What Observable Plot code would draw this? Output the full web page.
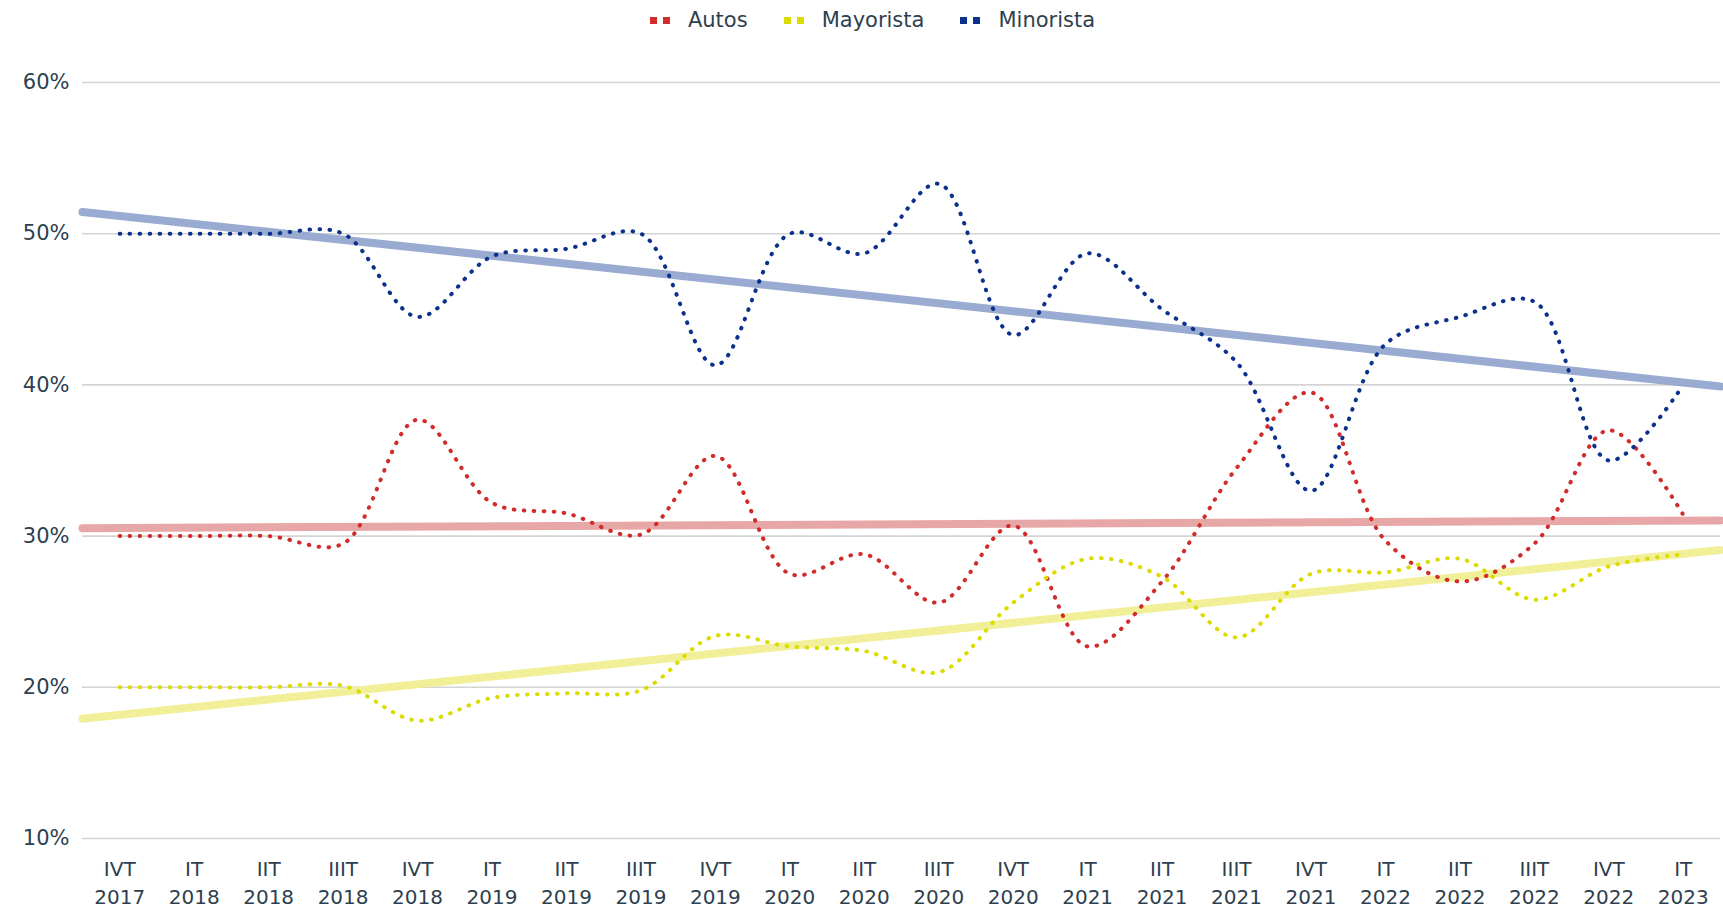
<!DOCTYPE html>
<html>
<head>
<meta charset="utf-8">
<script src="https://cdn.jsdelivr.net/npm/d3@7"></script>
<script src="https://cdn.jsdelivr.net/npm/@observablehq/plot@0.6"></script>
<style>
  html, body { margin: 0; padding: 0; background: #fff; }
  #legend {
    height: 40px; display: flex; justify-content: center; align-items: center;
    font-family: "DejaVu Sans", sans-serif; font-size: 21px; color: #2e3f50;
    gap: 36px; padding-left: 22px; box-sizing: border-box;
  }
  .item { display: flex; align-items: center; gap: 18px; }
  .sw { display: flex; gap: 6px; }
  .sw span { width: 7px; height: 7px; display: block; }
</style>
</head>
<body>
<div id="legend"></div>
<div id="chart"></div>
<script>
const periods = ["IVT\n2017","IT\n2018","IIT\n2018","IIIT\n2018","IVT\n2018","IT\n2019","IIT\n2019","IIIT\n2019","IVT\n2019","IT\n2020","IIT\n2020","IIIT\n2020","IVT\n2020","IT\n2021","IIT\n2021","IIIT\n2021","IVT\n2021","IT\n2022","IIT\n2022","IIIT\n2022","IVT\n2022","IT\n2023"];
const autos     = [30, 30, 30, 29.5, 37.7, 32.2, 31.5, 30.1, 35.3, 27.5, 28.8, 25.6, 30.7, 22.7, 27.0, 34.5, 39.5, 29.7, 27.0, 29.5, 37.0, 31.4];
const mayorista = [20, 20, 20, 20.1, 17.8, 19.3, 19.6, 19.8, 23.4, 22.7, 22.4, 21.0, 25.6, 28.5, 27.3, 23.3, 27.5, 27.6, 28.5, 25.8, 28.0, 28.8];
const minorista = [50, 50, 50, 50.0, 44.5, 48.5, 49.0, 50.0, 41.3, 50.0, 48.7, 53.3, 43.3, 48.7, 45.0, 41.5, 33.0, 42.7, 44.5, 45.5, 35.0, 40.0];
const seriesNames = ["Autos", "Mayorista", "Minorista"];
const lineColors  = ["#d12b2b", "#dcdc00", "#0c318c"];
const trendColors = ["#e8a7a7", "#f1ef98", "#9aabd1"];
const yTicks = [10, 20, 30, 40, 50, 60];

const seriesValues = [autos, mayorista, minorista];
const rows = [];
seriesValues.forEach((vals, s) => vals.forEach((v, i) => rows.push({i, v, s: seriesNames[s]})));

// linear trendlines (least squares), extended half a period each side
const trendRows = [];
seriesValues.forEach((vals, s) => {
  const xs = vals.map((_, i) => i);
  const mx = d3.mean(xs), my = d3.mean(vals);
  const slope = d3.sum(xs, (x, k) => (x - mx) * (vals[k] - my)) / d3.sum(xs, x => (x - mx) ** 2);
  const x0 = -0.5, x1 = vals.length - 0.5;
  trendRows.push({i: x0, v: my + slope * (x0 - mx), s: seriesNames[s]});
  trendRows.push({i: x1, v: my + slope * (x1 - mx), s: seriesNames[s]});
});

// legend
const leg = document.getElementById("legend");
seriesNames.forEach((name, k) => {
  const it = document.createElement("div"); it.className = "item";
  const sw = document.createElement("div"); sw.className = "sw";
  for (let j = 0; j < 2; j++) { const q = document.createElement("span"); q.style.background = lineColors[k]; sw.appendChild(q); }
  const t = document.createElement("span"); t.textContent = name;
  it.appendChild(sw); it.appendChild(t); leg.appendChild(it);
});

const marks = [
  Plot.gridY(yTicks, {stroke: "#d4d4d4", strokeOpacity: 1, strokeWidth: 1.6}),
  Plot.axisY(yTicks, {tickSize: 0, tickPadding: 13, tickFormat: d => d + "%", fontSize: 21}),
  Plot.axisX(d3.range(periods.length), {tickSize: 0, tickPadding: 17, tickFormat: i => periods[i], lineHeight: 1.43, fontSize: 20}),
];
seriesNames.forEach((name, k) => {
  marks.push(Plot.line(trendRows.filter(d => d.s === name), {x: "i", y: "v", stroke: trendColors[k], strokeWidth: 8}));
});
seriesNames.forEach((name, k) => {
  marks.push(Plot.line(rows.filter(d => d.s === name), {x: "i", y: "v", stroke: lineColors[k], strokeWidth: 4, strokeDasharray: "0.6 9.4", strokeLinecap: "round", curve: "catmull-rom"}));
});

const chart = Plot.plot({
  width: 1723,
  height: 868,
  marginLeft: 82,
  marginRight: 3,
  marginTop: 42,
  marginBottom: 70,
  x: {domain: [-0.5, periods.length - 0.5], label: null},
  y: {domain: [10, 60], label: null},
  style: {fontFamily: "DejaVu Sans, sans-serif", fontSize: "20px", color: "#2e3f50", background: "#fff", overflow: "visible"},
  marks
});
document.getElementById("chart").appendChild(chart);
</script>
</body>
</html>
